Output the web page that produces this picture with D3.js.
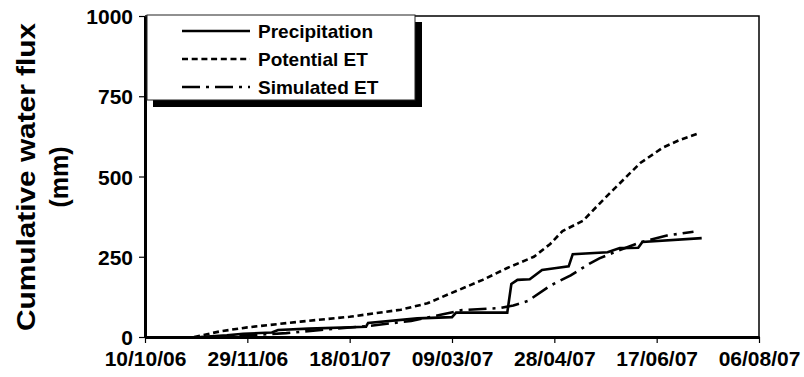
<!DOCTYPE html>
<html>
<head>
<meta charset="utf-8">
<script src="https://cdn.jsdelivr.net/npm/d3@7"></script>
<style>
  body { margin: 0; background: #fff; }
  svg { display: block; font-family: "Liberation Sans", Arial, sans-serif; font-weight: bold; }
</style>
</head>
<body>
<svg id="chart" width="804" height="377"></svg>
<script>
// tick labels on the date axis
var dateTicks = ["10/10/06", "29/11/06", "18/01/07", "09/03/07", "28/04/07", "17/06/07", "06/08/07"];
var valueTicks = [0, 250, 500, 750, 1000];

// series
var precipDates = ["06/11/06", "19/11/06", "27/11/06", "11/12/06", "14/12/06", "29/12/06", "26/01/07", "27/01/07",
    "20/02/07", "09/03/07", "11/03/07", "05/04/07", "07/04/07", "10/04/07", "16/04/07", "22/04/07", "29/04/07",
    "05/05/07", "07/05/07", "24/05/07", "30/05/07", "08/06/07", "10/06/07", "09/07/07"];
var precipValues = [0, 5, 10, 14, 22, 26, 32, 44, 58, 62, 76, 76, 165, 178, 180, 209, 215, 220, 258, 264, 277, 278, 296, 308];

var petDates = ["03/11/06", "16/11/06", "29/11/06", "25/12/06", "18/01/07", "12/02/07", "25/02/07", "08/03/07",
    "24/03/07", "05/04/07", "18/04/07", "26/04/07", "02/05/07", "12/05/07", "20/05/07", "27/05/07", "09/06/07",
    "20/06/07", "28/06/07", "08/07/07"];
var petValues = [0, 18, 30, 48, 63, 85, 105, 135, 178, 215, 250, 290, 330, 362, 415, 460, 542, 590, 613, 636];

var simDates = ["09/11/06", "29/11/06", "18/12/06", "04/01/07", "28/01/07", "17/02/07", "04/03/07", "14/03/07",
    "01/04/07", "08/04/07", "15/04/07", "26/04/07", "06/05/07", "15/05/07", "20/05/07", "30/05/07", "09/06/07",
    "22/06/07", "05/07/07"];
var simValues = [0, 5, 12, 22, 35, 50, 70, 84, 90, 98, 112, 160, 192, 228, 245, 271, 295, 316, 328];

var seriesNames = ["Precipitation", "Potential ET", "Simulated ET"];

var parse = d3.timeParse("%d/%m/%y");
var fmt = d3.timeFormat("%d/%m/%y");

function zipSeries(dates, values) {
    return dates.map(function(d, i) { return { date: parse(d), value: values[i] }; });
}

var series = [
    { name: seriesNames[0], data: zipSeries(precipDates, precipValues), dash: null },
    { name: seriesNames[1], data: zipSeries(petDates, petValues), dash: "6,3.7" },
    { name: seriesNames[2], data: zipSeries(simDates, simValues), dash: "18,6,3,6" }
];

var margin = { top: 16, right: 45, bottom: 40, left: 145 };
var svg = d3.select("#chart");
var width = +svg.attr("width") - margin.left - margin.right;
var height = +svg.attr("height") - margin.top - margin.bottom;

var x = d3.scaleTime()
    .domain([parse(dateTicks[0]), parse(dateTicks[dateTicks.length - 1])])
    .range([0, width]);
var y = d3.scaleLinear().domain([0, 1000]).range([height, 0]);

var g = svg.append("g").attr("transform", "translate(" + margin.left + "," + margin.top + ")");

// frame: thin top and right
g.append("path")
    .attr("d", "M0,0H" + width + "V" + height)
    .attr("fill", "none").attr("stroke", "#000").attr("stroke-width", 1.5);

var line = d3.line()
    .x(function(d) { return x(d.date); })
    .y(function(d) { return y(d.value); });

g.selectAll("path.series")
    .data(series)
    .enter().append("path")
    .attr("class", "series")
    .attr("d", function(d) { return line(d.data); })
    .attr("fill", "none")
    .attr("stroke", "#000")
    .attr("stroke-width", 2.6)
    .attr("stroke-dasharray", function(d) { return d.dash; });

// axes
var yAxis = g.append("g")
    .call(d3.axisLeft(y).tickValues(valueTicks).tickFormat(d3.format("d"))
        .tickSize(6).tickSizeOuter(0).tickPadding(6));
var xAxis = g.append("g")
    .attr("transform", "translate(0," + height + ")")
    .call(d3.axisBottom(x).tickValues(dateTicks.map(parse)).tickFormat(fmt)
        .tickSize(6).tickSizeOuter(0).tickPadding(8));

[yAxis, xAxis].forEach(function(ax) {
    ax.select(".domain").attr("stroke-width", 3);
    ax.selectAll(".tick line").attr("stroke-width", 1.2);
    ax.selectAll("text").attr("font-size", 21).attr("font-weight", "bold")
        .attr("font-family", "Liberation Sans, Arial, sans-serif").attr("fill", "#000");
});
yAxis.selectAll(".tick text").attr("dy", "0.36em");

// y title
var title = svg.append("g").attr("transform", "translate(35,177) rotate(-90)");
title.append("text")
    .attr("text-anchor", "middle")
    .attr("font-size", 25)
    .attr("textLength", 308)
    .attr("lengthAdjust", "spacingAndGlyphs")
    .text("Cumulative water flux");
title.append("text")
    .attr("y", 33)
    .attr("text-anchor", "middle")
    .attr("font-size", 25)
    .text("(mm)");

// legend with drop shadow
var legend = svg.append("g").attr("transform", "translate(147,15)");
legend.append("rect")
    .attr("x", 6).attr("y", 7).attr("width", 269).attr("height", 85)
    .attr("fill", "#000");
legend.append("rect")
    .attr("x", 0).attr("y", 0).attr("width", 268).attr("height", 85)
    .attr("fill", "#fff").attr("stroke", "#222").attr("stroke-width", 1);

var items = legend.selectAll("g.item")
    .data(series)
    .enter().append("g")
    .attr("class", "item")
    .attr("transform", function(d, i) { return "translate(0," + (16 + i * 28) + ")"; });

items.append("line")
    .attr("x1", 35).attr("x2", 103)
    .attr("stroke", "#000").attr("stroke-width", 2.6)
    .attr("stroke-dasharray", function(d) { return d.dash; });

items.append("text")
    .attr("x", 111)
    .attr("dy", "0.36em")
    .attr("font-size", 19)
    .text(function(d) { return d.name; });
</script>
</body>
</html>
